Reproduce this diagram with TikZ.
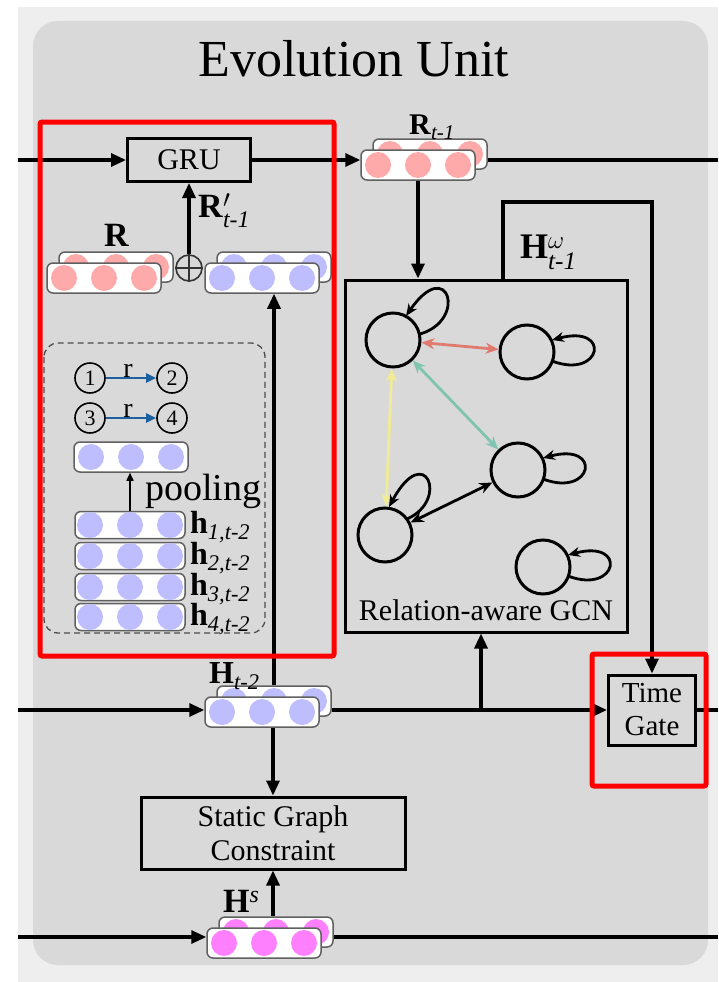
\documentclass[tikz,border=0pt]{standalone}
\usepackage{amsmath}
\usepackage{fontspec}
\setmainfont{Liberation Serif}
\usetikzlibrary{arrows.meta,calc}
\definecolor{outergray}{RGB}{238,238,238}
\definecolor{bggray}{RGB}{217,217,217}
\definecolor{vecgray}{RGB}{96,96,96}
\definecolor{pinkdot}{RGB}{255,170,170}
\definecolor{bluedot}{RGB}{190,190,255}
\definecolor{magentadot}{RGB}{255,128,255}
\definecolor{reledge}{RGB}{224,122,110}
\definecolor{tealedge}{RGB}{128,196,176}
\definecolor{yellowedge}{RGB}{240,236,150}
\definecolor{relblue}{RGB}{30,95,160}

% embedding vectors: one bar, and a stacked pair
\newcommand{\onevec}[4][]{%
  \node[vecbar,#1] (#2) at (#3) {};
  \foreach \dx in {-40,0,40} \fill[#4] ($(#2)+(\dx,0)$) circle (13pt);
}
\newcommand{\twovec}[3]{%
  \node[vecbar] (#1b) at ($(#2)+(12,-11)$) {};
  \foreach \dx in {-40,0,40} \fill[#3] ($(#1b)+(\dx,0)$) circle (13pt);
  \onevec{#1}{#2}{#3}
}
\newcommand{\selfloop}[1]{%
  \draw[gedge] ($(#1)+(25,9)$) .. controls ($(#1)+(75,28)$) and ($(#1)+(85,-28)$) .. ($(#1)+(25,-12)$);
}

\begin{document}
\begin{tikzpicture}[x=1pt, y=-1pt,
    blk/.style={draw, line width=3pt, fill=bggray, align=center, inner sep=0pt, font=\fontsize{30}{34}\selectfont},
    flow/.style={line width=3.2pt, -{Triangle[length=15pt,width=13pt]}},
    plain/.style={line width=3.2pt},
    vecbar/.style={draw=vecgray, line width=1.5pt, fill=white, rounded corners=6pt, minimum width=114pt, minimum height=30pt, inner sep=0pt},
    gnode/.style={circle, draw, line width=3pt, minimum size=54pt, inner sep=0pt},
    gedge/.style={line width=2.8pt, -{Stealth[length=12pt,width=10pt]}},
    biedge/.style={line width=2.8pt, {Stealth[length=13pt,width=11pt]}-{Stealth[length=13pt,width=11pt]}},
    idnode/.style={circle, draw, line width=1.6pt, minimum size=30pt, inner sep=0pt, font=\fontsize{22}{22}\selectfont},
    relarrow/.style={draw=relblue, line width=2.2pt, -{Triangle[length=10pt,width=9pt]}},
    lab/.style={font=\fontsize{34}{34}\selectfont, inner sep=0pt, anchor=base west},
    redframe/.style={draw=red, line width=5pt, rounded corners=2pt}]
    % background
    \useasboundingbox (0,0) rectangle (718,982);
    \fill[white] (0,0) rectangle (718,982);
    \fill[outergray] (18,7) rectangle (718,982);
    \fill[bggray, rounded corners=25pt] (33,21) rectangle (708,965);
    \node[font=\fontsize{52}{52}\selectfont, anchor=base] (title) at (354,77) {Evolution Unit};

    % GRU and relation input
    \node[blk, minimum width=123pt, minimum height=43pt] (gru) at (189,160) {GRU};
    \coordinate (rin) at (18,160);
    \coordinate (rout) at (718,160);
    \twovec{rt}{418,165}{pinkdot}
    \node[lab, font=\fontsize{30}{30}\selectfont] (rtlab) at (409,134) {\textbf{R}$_{\textit{t-1}}$};
    \draw[flow] (rin) -- (gru.west);
    \draw[flow] (gru.east) -- (gru.east -| rt.west);
    \draw[plain] (rtb.east |- rout) -- (rout);

    \twovec{rprev}{104,278}{pinkdot}
    \twovec{rpool}{262,278}{bluedot}
    \node[circle, draw=black!80, line width=1.6pt, minimum size=26pt, inner sep=0pt] (plus) at (189,268) {};
    \draw[black!80, line width=1.6pt] (plus.north) -- (plus.south) (plus.west) -- (plus.east);
    \draw[flow] (plus.north) -- (gru.south);
    \node[lab] (rlab) at (104,246) {\textbf{R}};
    \node[lab] (rplab) at (198,217) {\textbf{R}$'_{\textit{t-1}}$};

    % relation pooling
    \draw[dash pattern=on 6pt off 4pt, line width=1.3pt, draw=black!70, rounded corners=14pt] (44,343) rectangle (265,633);
    \node[idnode] (e1) at (90,378) {1};
    \node[idnode] (e2) at (172,378) {2};
    \node[idnode] (e3) at (90,418) {3};
    \node[idnode] (e4) at (172,418) {4};
    \draw[relarrow] (e1) -- (e2);
    \draw[relarrow] (e3) -- (e4);
    \node[font=\fontsize{28}{28}\selectfont, anchor=base, inner sep=0pt] (r12) at (128,377) {r};
    \node[font=\fontsize{28}{28}\selectfont, anchor=base, inner sep=0pt] (r34) at (128,417) {r};
    \onevec{pool}{131,457}{bluedot}
    \foreach \i/\y in {1/525,2/556,3/587,4/617}{
        \onevec[minimum width=110pt, minimum height=27pt]{h\i}{130,\y}{bluedot}
        \node[lab, font=\fontsize{32}{32}\selectfont] (hl\i) at (190,\y+8) {\textbf{h}$_{\textit{\i,t-2}}$};
    }
    \node[font=\fontsize{38}{38}\selectfont, anchor=base west, inner sep=0pt] (poollab) at (145,500) {pooling};
    \draw[line width=1.5pt, -{Triangle[length=8pt,width=7pt]}] (h1.north) -- (h1.north |- pool.south);

    % relation-aware GCN
    \node[blk, minimum width=282pt, minimum height=352pt] (gcn) at (486,456) {};
    \node[font=\fontsize{30}{34}\selectfont, anchor=base, inner sep=0pt] (gcnlab) at (486,620) {Relation-aware GCN};
    \node[gnode] (ga) at (393,340) {};
    \node[gnode] (gb) at (527,352) {};
    \node[gnode] (gc) at (518,470) {};
    \node[gnode] (gd) at (385,535) {};
    \node[gnode] (ge) at (543,567) {};
    \draw[biedge, draw=reledge] (ga) -- (gb);
    \draw[biedge, draw=tealedge] (ga) -- (gc);
    \draw[biedge, draw=yellowedge] (ga) -- (gd);
    \draw[biedge, draw=black] (gd) -- (gc);
    \draw[gedge] ($(ga)+(27,-6)$) .. controls ($(ga)+(75,-20)$) and ($(ga)+(55,-85)$) .. ($(ga)+(13,-24)$);
    \draw[gedge] ($(gd)+(22,-16)$) .. controls ($(gd)+(65,-35)$) and ($(gd)+(40,-95)$) .. ($(gd)+(4,-28)$);
    \selfloop{gb}
    \selfloop{gc}
    \selfloop{ge}
    \draw[flow] (rt.south) -- (rt.south |- gcn.north);

    % time gate
    \node[blk, minimum width=87pt, minimum height=70pt, font=\fontsize{29}{33}\selectfont] (tg) at (652,710) {Time\\Gate};
    \coordinate (hwtop) at (503,202);
    \draw[flow] (gcn.north -| hwtop) -- (hwtop) -| (tg.north);
    \node[lab, font=\fontsize{36}{36}\selectfont] (hwlab) at (520,258) {\textbf{H}$^{\omega}_{\textit{t-1}}$};

    % entity input
    \coordinate (hin) at (18,710);
    \coordinate (hout) at (718,710);
    \coordinate (hbr) at (481,710);
    \twovec{ht}{262,712}{bluedot}
    \node[lab, font=\fontsize{32}{32}\selectfont] (htlab) at (209,683) {\textbf{H}$_{\textit{t-2}}$};
    \draw[flow] (hin) -- (hin -| ht.west);
    \draw[flow] (htb.east |- tg.west) -- (tg.west);
    \draw[flow] (hbr) -- (hbr |- gcn.south);
    \draw[plain] (tg.east) -- (hout);
    \draw[flow] (htb.north) -- (htb.north |- rpool.south);

    % static graph
    \node[blk, minimum width=264pt, minimum height=72pt] (sgc) at (273,833) {Static Graph\\Constraint};
    \draw[flow] (sgc.north |- ht.south) -- (sgc.north);
    \coordinate (sin) at (18,937);
    \coordinate (sout) at (718,937);
    \twovec{hs}{264,943}{magentadot}
    \node[lab] (hslab) at (223,912) {\textbf{H}$^{\textit{s}}$};
    \draw[flow] (sin) -- (sin -| hs.west);
    \draw[plain] (hsb.east |- sout) -- (sout);
    \draw[flow] (sgc.south |- hsb.north) -- (sgc.south);

    % highlighted parts
    \draw[redframe] (40,122) rectangle (334,656);
    \draw[redframe] (592,654) rectangle (706,786);
\end{tikzpicture}
\end{document}
